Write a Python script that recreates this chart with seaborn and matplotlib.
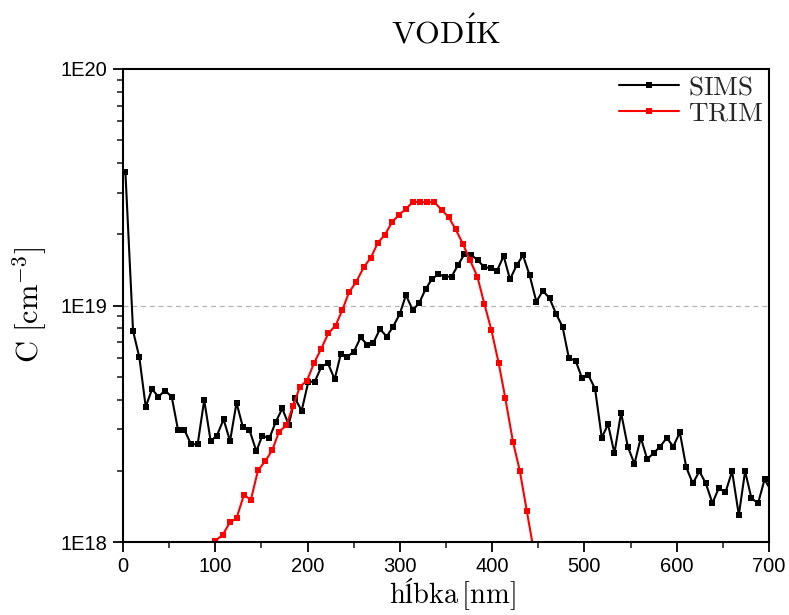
import numpy as np
import pandas as pd
import matplotlib
matplotlib.use("Agg")
import matplotlib.pyplot as plt
import seaborn as sns
from matplotlib.ticker import FixedLocator, FixedFormatter, MultipleLocator, NullFormatter

# ---------------- data (concentrations in units of 1E18 cm^-3) ----------------
sims_depth = [2.6, 10.9, 17.7, 24.6, 31.5, 38.4, 45.5, 52.8, 59.6, 66.5,
              73.7, 80.9, 88.0, 95.0, 101.8, 109.0, 116.0, 123.0, 130.0, 137.0,
              144.5, 151.0, 158.5, 165.4, 172.6, 179.5, 186.4, 193.6, 200.8, 207.7,
              215.0, 222.0, 229.4, 236.0, 243.0, 250.0, 257.5, 264.7, 271.0, 278.5,
              285.7, 292.5, 299.8, 306.6, 313.9, 320.7, 328.0, 334.8, 341.7, 348.8,
              356.0, 362.9, 370.0, 377.0, 384.3, 391.0, 398.4, 405.2, 412.5, 419.3,
              426.6, 433.4, 440.6, 447.9, 455.0, 462.2, 469.5, 476.3, 483.2, 490.4,
              497.5, 504.3, 511.5, 518.8, 525.6, 532.5, 539.7, 547.0, 554.2, 561.1,
              568.0, 575.2, 582.0, 589.3, 596.2, 603.4, 610.3, 617.4, 624.6, 631.5,
              638.7, 645.6, 652.8, 660.0, 667.3, 674.1, 681.0, 688.2, 695.2, 702.2]
sims_conc_e18 = [36.7, 7.8, 6.04, 3.73, 4.43, 4.11, 4.37, 4.11, 2.98, 2.98,
                 2.59, 2.59, 3.98, 2.67, 2.82, 3.30, 2.67, 3.88, 3.05, 2.98,
                 2.42, 2.82, 2.74, 3.21, 3.67, 3.13, 4.05, 3.59, 4.76, 4.76,
                 5.51, 5.70, 4.88, 6.24, 6.08, 6.36, 7.33, 6.82, 6.92, 7.96,
                 7.38, 8.13, 9.18, 11.07, 9.57, 10.2, 11.75, 12.94, 13.56, 13.24,
                 13.24, 14.8, 16.5, 16.4, 15.56, 14.59, 14.35, 14.0, 16.2, 12.9,
                 14.8, 16.3, 13.43, 10.38, 11.56, 10.72, 9.18, 8.13, 5.98, 5.85,
                 4.92, 5.07, 4.45, 2.76, 3.15, 2.37, 3.52, 2.53, 2.14, 2.76,
                 2.24, 2.38, 2.53, 2.76, 2.53, 2.91, 2.07, 1.77, 1.99, 1.77,
                 1.46, 1.69, 1.62, 1.99, 1.30, 1.99, 1.53, 1.46, 1.84, 1.65]

trim_depth = [92.0, 99.6, 107.9, 115.8, 123.0, 131.0, 138.6, 146.3, 154.3, 161.8,
              169.1, 177.0, 184.2, 191.8, 199.3, 206.9, 214.5, 222.5, 230.3, 237.7,
              244.9, 252.9, 260.8, 268.4, 276.3, 283.6, 291.5, 299.1, 306.7, 314.3,
              321.9, 329.8, 337.4, 345.3, 352.9, 360.5, 368.4, 376.0, 384.0, 391.6,
              399.2, 407.1, 414.2, 422.5, 430.0, 437.6, 445.3]
trim_conc_e18 = [0.88, 1.01, 1.07, 1.21, 1.26, 1.58, 1.51, 2.01, 2.20, 2.45,
                 2.93, 3.11, 3.76, 4.54, 4.80, 5.70, 6.53, 7.63, 8.22, 9.57,
                 11.37, 12.62, 14.5, 15.9, 18.45, 19.85, 22.5, 24.2, 25.6, 27.5,
                 27.3, 27.4, 27.3, 25.4, 23.6, 21.0, 18.2, 15.56, 13.24, 10.14,
                 7.87, 5.70, 4.07, 2.66, 2.00, 1.35, 0.91]

series_names = ["SIMS", "TRIM"]
series_colors = ["black", "#ff0000"]

y_ticks = [1e18, 1e19, 1e20]
y_tick_labels = ["1E18", "1E19", "1E20"]
x_ticks = [0, 100, 200, 300, 400, 500, 600, 700]

title_text = r"$\mathrm{VOD\acute{I}K}$"
xlabel_text = r"$\mathrm{hĺbka}\,[\mathrm{nm}]$"
ylabel_text = r"$\mathrm{C}\ [\mathrm{cm}^{-3}]$"

# ---------------- style ----------------
sns.set_theme(style="white")
plt.rcParams["font.family"] = ["Liberation Sans", "DejaVu Sans"]
plt.rcParams["mathtext.fontset"] = "cm"

df_sims = pd.DataFrame({"depth": sims_depth, "conc": np.array(sims_conc_e18) * 1e18})
df_trim = pd.DataFrame({"depth": trim_depth, "conc": np.array(trim_conc_e18) * 1e18})

fig = plt.figure(figsize=(7.89, 6.15), dpi=100)
ax = fig.add_axes([123 / 789, 1 - 542 / 615, (769 - 123) / 789, (542 - 69) / 615])

ax.axhline(1e19, color="#b5b5b5", lw=0.9, ls=(0, (4, 3)), zorder=0)

for df, name, col in zip([df_sims, df_trim], series_names, series_colors):
    sns.lineplot(data=df, x="depth", y="conc", ax=ax, color=col, marker="s",
                 markersize=5, markeredgewidth=0, linewidth=1.5,
                 estimator=None, sort=False, label=name)

ax.set_yscale("log")
ax.set_xlim(0, 700)
ax.set_ylim(1e18, 1e20)

ax.yaxis.set_major_locator(FixedLocator(y_ticks))
ax.yaxis.set_major_formatter(FixedFormatter(y_tick_labels))
minor = [float(m) * 10.0 ** e for e in (18, 19) for m in range(2, 10)]
ax.yaxis.set_minor_locator(FixedLocator(minor))
ax.yaxis.set_minor_formatter(NullFormatter())
ax.xaxis.set_major_locator(FixedLocator(x_ticks))
ax.xaxis.set_minor_locator(MultipleLocator(50))

for s in ax.spines.values():
    s.set_linewidth(1.5)
    s.set_color("black")

ax.tick_params(which="major", direction="out", length=7.5, width=1.3,
               labelsize=14.5, colors="black", left=True, bottom=True, top=False, right=False)
ax.tick_params(axis="y", which="major", pad=4)
ax.tick_params(axis="x", which="major", pad=3)
ax.tick_params(which="minor", direction="out", length=4, width=1.2,
               left=True, bottom=True, top=False, right=False)

ax.set_title(title_text, fontsize=23, pad=18, color="black")
ax.set_xlabel(xlabel_text, fontsize=20.5, labelpad=0.5, color="black", x=0.51)
ax.set_ylabel(ylabel_text, fontsize=22, labelpad=8, color="black")

handles, _ = ax.get_legend_handles_labels()
for h in handles:
    h.set_markersize(4.5)
ax.legend(handles, [r"$\mathrm{SIMS}$", r"$\mathrm{TRIM}$"], loc="upper right",
          frameon=False, fontsize=19.5, handlelength=2.2, handletextpad=0.35,
          labelspacing=0.0, borderaxespad=0.1, borderpad=0.1)

fig.savefig("out.png", dpi=100)
